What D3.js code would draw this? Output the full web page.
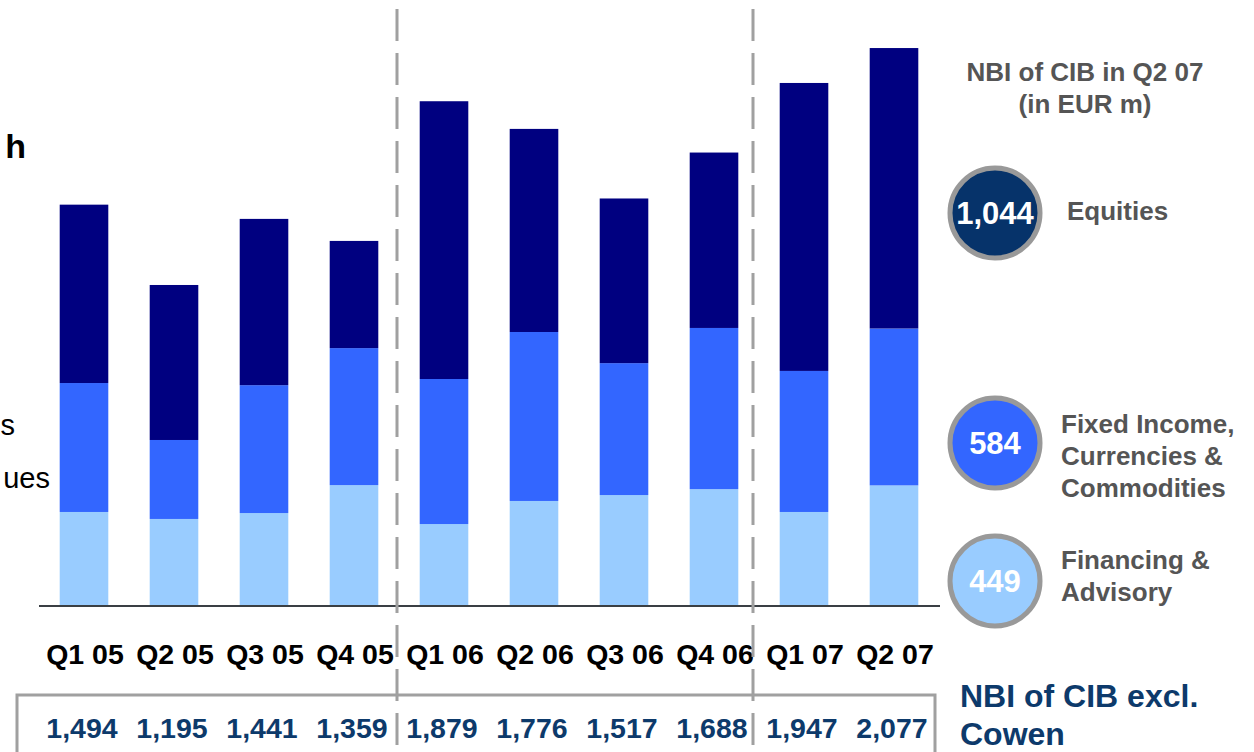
<!DOCTYPE html>
<html lang="en">
<head>
    <meta charset="UTF-8">
    <title>NBI of CIB</title>
    <script src="https://cdn.jsdelivr.net/npm/d3@7"></script>
    <style>
        body { margin: 0; background: #fff; }
        svg { display: block; font-family: "Liberation Sans", Arial, sans-serif; }
    </style>
</head>
<body>
<svg width="1254" height="752"></svg>
<script>
    // data
    var quarters = ["Q1 05", "Q2 05", "Q3 05", "Q4 05", "Q1 06", "Q2 06", "Q3 06", "Q4 06", "Q1 07", "Q2 07"];
    var financing = [350, 324, 346, 450, 305, 391, 413, 435, 350, 449];
    var fixedIncome = [480, 294, 476, 510, 540, 629, 491, 600, 525, 584];
    var equities = [664, 577, 619, 399, 1034, 756, 613, 653, 1072, 1044];
    var totals = [1494, 1195, 1441, 1359, 1879, 1776, 1517, 1688, 1947, 2077];
    var seriesKeys = ["financing", "fixedIncome", "equities"];
    var seriesColors = ["#99CCFF", "#3366FF", "#000080"];

    var svg = d3.select("svg");

    var rows = quarters.map(function (q, i) {
        return {q: q, financing: financing[i], fixedIncome: fixedIncome[i], equities: equities[i], total: totals[i]};
    });

    var x = d3.scaleBand()
        .domain(quarters)
        .range([39, 939])
        .paddingInner(0.46)
        .paddingOuter(0.23);

    var y = d3.scaleLinear()
        .domain([0, 2200])
        .range([606, 15]);

    var color = d3.scaleOrdinal().domain(seriesKeys).range(seriesColors);

    var stacked = d3.stack().keys(seriesKeys)(rows);

    // bars
    svg.append("g")
        .attr("class", "bars")
        .selectAll("g")
        .data(stacked)
        .enter().append("g")
        .attr("fill", function (d) { return color(d.key); })
        .selectAll("rect")
        .data(function (d) { return d; })
        .enter().append("rect")
        .attr("x", function (d) { return x(d.data.q); })
        .attr("y", function (d) { return y(d[1]); })
        .attr("width", x.bandwidth())
        .attr("height", function (d) { return y(d[0]) - y(d[1]); });

    // baseline
    svg.append("line")
        .attr("x1", 39).attr("x2", 940)
        .attr("y1", y(0)).attr("y2", y(0))
        .attr("stroke", "#3a3f44")
        .attr("stroke-width", 2);

    // x labels
    svg.append("g")
        .selectAll("text")
        .data(quarters)
        .enter().append("text")
        .attr("x", function (d) { return x(d) + x.bandwidth() / 2 + 1; })
        .attr("y", 664)
        .attr("text-anchor", "middle")
        .attr("font-size", 28.5)
        .attr("font-weight", "bold")
        .attr("fill", "#000")
        .text(function (d) { return d; });

    // totals box
    svg.append("path")
        .attr("d", "M17,752 V695 H935 V752")
        .attr("fill", "none")
        .attr("stroke", "#a0a0a0")
        .attr("stroke-width", 3);

    svg.append("g")
        .selectAll("text")
        .data(rows)
        .enter().append("text")
        .attr("x", function (d) { return x(d.q) + x.bandwidth() / 2 - 2; })
        .attr("y", 738)
        .attr("text-anchor", "middle")
        .attr("font-size", 28.5)
        .attr("font-weight", "bold")
        .attr("fill", "#0d3a6b")
        .text(function (d) { return d3.format(",")(d.total); });

    // dashed separators
    [397, 753].forEach(function (sx) {
        svg.append("line")
            .attr("x1", sx).attr("x2", sx)
            .attr("y1", 9).attr("y2", 752)
            .attr("stroke", "#a0a0a0")
            .attr("stroke-width", 3)
            .attr("stroke-dasharray", "32,12");
    });

    svg.append("text")
        .attr("x", 960).attr("y", 707)
        .attr("font-size", 32).attr("font-weight", "bold")
        .attr("fill", "#0d3a6b")
        .text("NBI of CIB excl.");
    svg.append("text")
        .attr("x", 960).attr("y", 745)
        .attr("font-size", 32).attr("font-weight", "bold")
        .attr("fill", "#0d3a6b")
        .text("Cowen");

    // legend
    var legendTitle = ["NBI of CIB in Q2 07", "(in EUR m)"];
    svg.append("g")
        .selectAll("text")
        .data(legendTitle)
        .enter().append("text")
        .attr("x", 1085)
        .attr("y", function (d, i) { return 81 + i * 32; })
        .attr("text-anchor", "middle")
        .attr("font-size", 26)
        .attr("font-weight", "bold")
        .attr("fill", "#555")
        .text(function (d) { return d; });

    var legendItems = [
        {key: "equities", fill: "#06336a", cy: 213, lines: ["Equities"], textY: 220},
        {key: "fixedIncome", fill: "#3366FF", cy: 443, lines: ["Fixed Income,", "Currencies &", "Commodities"], textY: 433},
        {key: "financing", fill: "#99CCFF", cy: 581, lines: ["Financing &", "Advisory"], textY: 569}
    ];
    var latest = rows[rows.length - 1];

    var lg = svg.append("g").selectAll("g")
        .data(legendItems)
        .enter().append("g");

    lg.append("circle")
        .attr("cx", 995)
        .attr("cy", function (d) { return d.cy; })
        .attr("r", 45)
        .attr("fill", function (d) { return d.fill; })
        .attr("stroke", "#999")
        .attr("stroke-width", 5);

    lg.append("text")
        .attr("x", 995)
        .attr("y", function (d) { return d.cy + 11; })
        .attr("text-anchor", "middle")
        .attr("font-size", 31)
        .attr("font-weight", "bold")
        .attr("fill", "#fff")
        .text(function (d) { return d3.format(",")(latest[d.key]); });

    lg.each(function (d) {
        var g = d3.select(this);
        d.lines.forEach(function (line, i) {
            g.append("text")
                .attr("x", d.key === "equities" ? 1067 : 1061)
                .attr("y", d.textY + i * 32)
                .attr("font-size", 26)
                .attr("font-weight", "bold")
                .attr("fill", "#555")
                .text(line);
        });
    });

    // clipped text from the slide's left column
    svg.append("text")
        .attr("x", 26).attr("y", 158)
        .attr("text-anchor", "end")
        .attr("font-size", 34).attr("font-weight", "bold")
        .attr("fill", "#000")
        .text("h");
    svg.append("text")
        .attr("x", 15).attr("y", 435)
        .attr("text-anchor", "end")
        .attr("font-size", 29)
        .attr("fill", "#000")
        .text("s");
    svg.append("text")
        .attr("x", 50).attr("y", 488)
        .attr("text-anchor", "end")
        .attr("font-size", 29)
        .attr("fill", "#000")
        .text("ues");
</script>
</body>
</html>
